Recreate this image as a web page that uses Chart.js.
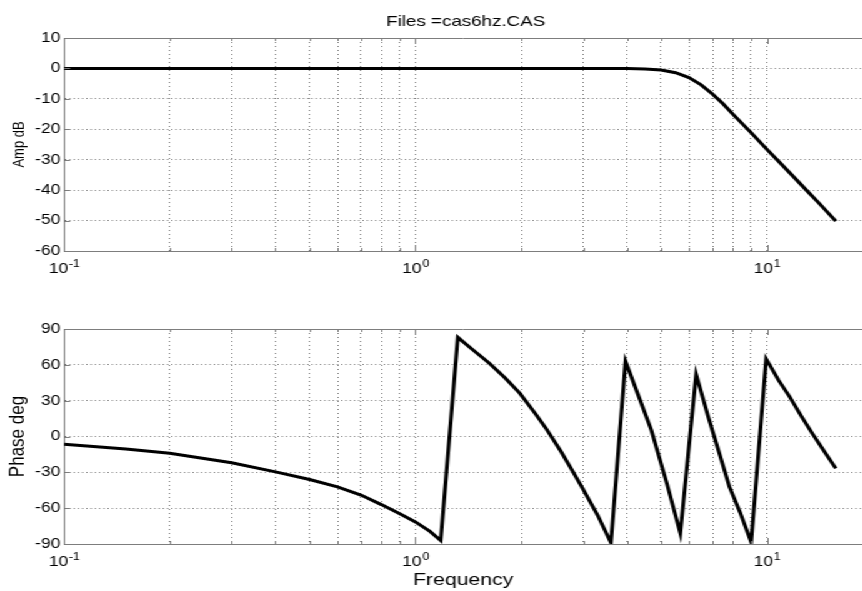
<!DOCTYPE html>
<html>
<head>
<meta charset="utf-8">
<title>cas6hz.CAS frequency response</title>
<script src="https://cdn.jsdelivr.net/npm/chart.js@4/dist/chart.umd.min.js"></script>
<style>
  html, body { margin: 0; padding: 0; background: #fff; overflow: hidden; }
  /* the figure is laid out on a 690px-wide grid and widened to 862px */
  #figure { position: absolute; left: 0; top: 0; width: 690px; height: 591px;
            transform: scale(1.25, 1); transform-origin: 0 0; }
  #ampCanvas { position: absolute; left: 0; top: 0; }
  #phaseCanvas { position: absolute; left: 0; top: 300px; }
</style>
</head>
<body>
<div id="figure">
  <canvas id="ampCanvas" width="690" height="300"></canvas>
  <canvas id="phaseCanvas" width="690" height="291"></canvas>
</div>
<script>
// ---- data -------------------------------------------------------------
const titleText = 'Files =cas6hz.CAS';

const xGridValues = [0.1, 0.2, 0.3, 0.4, 0.5, 0.6, 0.7, 0.8, 0.9,
                     1, 2, 3, 4, 5, 6, 7, 8, 9, 10];
const decadeTicks = [0.1, 1, 10];
const decadeExponents = ['-1', '0', '1'];
const ampTicks = [-60, -50, -40, -30, -20, -10, 0, 10];
const phaseTicks = [-90, -60, -30, 0, 30, 60, 90];

// amplitude (dB) against frequency (Hz)
const ampFreq = [0.1, 0.2, 0.5, 1, 2, 3, 4, 4.5, 5, 5.5, 6, 6.5, 7, 7.5, 8,
                 9, 10, 11, 12, 13, 14, 15, 15.7];
const ampDb   = [0, 0, 0, 0, 0, -0.02, -0.05, -0.15, -0.5, -1.4, -3.0, -5.4,
                 -8.4, -11.6, -15.0, -21.0, -26.6, -31.5, -36.0, -40.2, -44.0,
                 -47.7, -50.2];

// phase (deg, wrapped) against frequency (Hz)
const phaseFreq = [0.1, 0.15, 0.2, 0.3, 0.4, 0.5, 0.6, 0.7, 0.8, 0.9, 1.0, 1.1,
                   1.18, 1.32, 1.45, 1.62, 1.8, 1.98, 2.2, 2.35, 2.6, 2.8, 2.99,
                   3.3, 3.6, 3.96, 4.3, 4.69, 5.2, 5.67, 6.29, 6.8, 7.32, 7.82,
                   8.4, 9.02, 9.95, 10.8, 11.6, 12.5, 13.5, 14.6, 15.7];
const phaseDeg  = [-6.5, -10.5, -14, -22, -29.6, -36, -42.2, -49, -57, -64.5,
                   -71.5, -79.5, -87, 83, 73, 61.5, 49, 36.3, 18.6, 7, -13,
                   -29, -43.5, -66, -89, 63, 35, 5.4, -40, -81, 52, 17, -14,
                   -42, -64, -88.5, 65, 47, 33.4, 17.5, 2, -13, -26.7];

// ---- styling ----------------------------------------------------------
const FONT = "'Liberation Sans', Arial, Helvetica, sans-serif";
const GRID_COLOR = '#7a7a7a';
const BOX_COLOR = '#7d7d7d';
const X_MIN = 0.1;
const X_MAX = 18.7;
const Y_AXIS_WIDTH = 51.2;

Chart.defaults.font.family = FONT;
Chart.defaults.color = '#000';

const toPoints = (xs, ys) => xs.map((x, i) => ({ x: x, y: ys[i] }));

// box edge, inward tick marks, 10^n decade labels and the figure title
const frame = {
  id: 'frame',
  afterDraw(chart, args, opts) {
    const { ctx, chartArea: a } = chart;
    const xs = chart.scales.x, ys = chart.scales.y;
    ctx.save();
    ctx.strokeStyle = BOX_COLOR;
    ctx.lineWidth = 1;
    ctx.beginPath();
    const top = Math.round(a.top) + 0.5;
    ctx.moveTo(a.left, top);
    ctx.lineTo(a.right, top);
    xs.ticks.forEach(t => {
      const px = Math.round(xs.getPixelForValue(t.value)) + 0.5;
      const len = decadeTicks.includes(t.value) ? 6 : 3;
      ctx.moveTo(px, a.bottom); ctx.lineTo(px, a.bottom - len);
      ctx.moveTo(px, a.top); ctx.lineTo(px, a.top + len);
    });
    ys.ticks.forEach(t => {
      const py = Math.round(ys.getPixelForValue(t.value)) + 0.5;
      ctx.moveTo(a.left, py); ctx.lineTo(a.left + 5, py);
    });
    ctx.stroke();

    ctx.fillStyle = '#000';
    ctx.textBaseline = 'alphabetic';
    ctx.textAlign = 'left';
    decadeTicks.forEach((v, i) => {
      const px = xs.getPixelForValue(v);
      ctx.font = '14px ' + FONT;
      const wBase = ctx.measureText('10').width;
      ctx.font = '10px ' + FONT;
      const wExp = ctx.measureText(decadeExponents[i]).width;
      const x0 = px - (wBase + wExp) / 2;
      ctx.font = '14px ' + FONT;
      ctx.fillText('10', x0, a.bottom + 22);
      ctx.font = '10px ' + FONT;
      ctx.fillText(decadeExponents[i], x0 + wBase + 0.5, a.bottom + 16);
    });

    if (opts.text) {
      ctx.font = '15px ' + FONT;
      ctx.textAlign = 'center';
      ctx.fillText(opts.text, (a.left + a.right) / 2 + 2, opts.y);
    }
    ctx.restore();
  }
};

function freqAxis(height, title) {
  return {
    type: 'logarithmic',
    min: X_MIN,
    max: X_MAX,
    afterBuildTicks: s => { s.ticks = xGridValues.map(v => ({ value: v })); },
    afterFit: s => { s.height = height; },
    ticks: { display: false },
    grid: { color: GRID_COLOR, lineWidth: 1, drawTicks: false },
    border: { display: true, color: BOX_COLOR, width: 1, dash: [1, 3] },
    title: title ? { display: true, text: title, color: '#000',
                     font: { size: 17, family: FONT }, padding: 0 }
                 : { display: false }
  };
}

function valueAxis(min, max, tickValues, title, titleSize, titlePad) {
  return {
    min: min,
    max: max,
    afterBuildTicks: s => { s.ticks = tickValues.map(v => ({ value: v })); },
    afterFit: s => { s.width = Y_AXIS_WIDTH; },
    ticks: { font: { size: 14, family: FONT }, color: '#000', padding: 3,
             autoSkip: false },
    grid: { color: GRID_COLOR, lineWidth: 1, drawTicks: false },
    border: { display: true, color: BOX_COLOR, width: 1, dash: [1, 2.4] },
    title: { display: true, text: title, color: '#000',
             font: { size: titleSize, family: FONT },
             padding: { top: titlePad, bottom: 0 } }
  };
}

function curve(xs, ys, width) {
  return {
    data: toPoints(xs, ys),
    borderColor: '#000',
    backgroundColor: '#000',
    borderWidth: width,
    borderJoinStyle: 'miter',
    borderCapStyle: 'butt',
    pointRadius: 0,
    tension: 0,
    fill: false
  };
}

const common = {
  responsive: false,
  animation: false,
  events: [],
  plugins: { legend: { display: false }, tooltip: { enabled: false } }
};

new Chart(document.getElementById('ampCanvas'), {
  type: 'line',
  data: { datasets: [curve(ampFreq, ampDb, 3)] },
  options: Object.assign({}, common, {
    layout: { padding: { top: 38, left: 0, right: 0, bottom: 0 } },
    scales: {
      x: freqAxis(49, null),
      y: valueAxis(-60, 10, ampTicks, 'Amp dB', 13, 8)
    },
    plugins: Object.assign({}, common.plugins, {
      frame: { text: titleText, y: 26 }
    })
  }),
  plugins: [frame]
});

new Chart(document.getElementById('phaseCanvas'), {
  type: 'line',
  data: { datasets: [curve(phaseFreq, phaseDeg, 3)] },
  options: Object.assign({}, common, {
    layout: { padding: { top: 29, left: 0, right: 0, bottom: 0 } },
    scales: {
      x: freqAxis(47, 'Frequency'),
      y: valueAxis(-90, 90, phaseTicks, 'Phase deg', 17, 4.2)
    },
    plugins: Object.assign({}, common.plugins, { frame: {} })
  }),
  plugins: [frame]
});
</script>
</body>
</html>
